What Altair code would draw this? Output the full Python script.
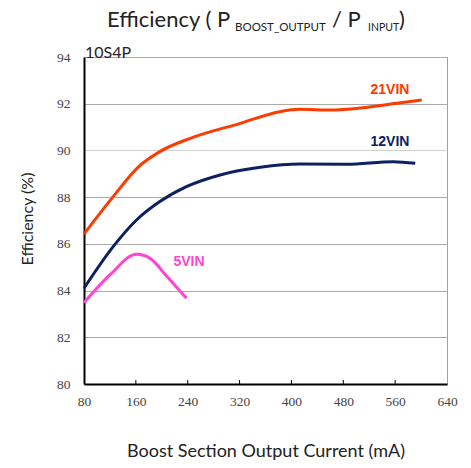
import altair as alt
import pandas as pd

# 21VIN
x_21 = [80, 125, 164, 197, 244, 321, 382, 413, 460, 511, 563, 601]
y_21 = [86.42, 88.02, 89.30, 89.95, 90.52, 91.16, 91.66, 91.76, 91.73, 91.83, 92.02, 92.16]
# 12VIN
x_12 = [80, 125, 161, 197, 238, 290, 352, 413, 485, 557, 591]
y_12 = [84.10, 85.88, 87.02, 87.81, 88.45, 88.95, 89.28, 89.42, 89.41, 89.52, 89.45]
# 5VIN
x_5 = [80, 120, 161, 182, 208, 238]
y_5 = [83.48, 84.67, 85.55, 85.38, 84.60, 83.67]

series_names = ["21VIN", "12VIN", "5VIN"]
line_colors = ["#ff3a00", "#0b2161", "#ff44d0"]
label_colors = ["#ff1a00", "#1c1c8e", "#ff5ce0"]
label_x = [552, 552, 242]
label_y = [92.6, 90.37, 85.24]

x_ticks = [80, 160, 240, 320, 400, 480, 560, 640]
y_ticks = [80, 82, 84, 86, 88, 90, 92, 94]

rows = []
for name, xs_, ys_ in zip(series_names, [x_21, x_12, x_5], [y_21, y_12, y_5]):
    for a, b in zip(xs_, ys_):
        rows.append({"series": name, "current": a, "eff": b})
df = pd.DataFrame(rows)

lab_df = pd.DataFrame({"series": series_names, "current": label_x, "eff": label_y})
tick_df = pd.DataFrame({"current": x_ticks[1:-1], "eff": [80] * 6, "eff2": [80.17] * 6})

xs = alt.Scale(domain=[80, 640], nice=False)
ys = alt.Scale(domain=[80, 94], nice=False)

xaxis = alt.Axis(values=x_ticks, title=None, grid=False, ticks=False, labelFlush=False,
                 domainColor="black", domainWidth=2, labelPadding=10)
yaxis = alt.Axis(values=y_ticks, title=None, grid=True, ticks=False, labelFlush=False,
                 gridColor={"condition": {"test": "datum.value == 90", "value": "#d2d2d2"},
                            "value": "#aaaaaa"},
                 domainColor="black", domainWidth=2, labelPadding=14)

lines = alt.Chart(df).mark_line(strokeWidth=3, interpolate="monotone").encode(
    x=alt.X("current:Q", scale=xs, axis=xaxis),
    y=alt.Y("eff:Q", scale=ys, axis=yaxis),
    color=alt.Color("series:N", scale=alt.Scale(domain=series_names, range=line_colors), legend=None),
)

labels = alt.Chart(lab_df).mark_text(font="Liberation Sans", fontWeight="bold", fontSize=14).encode(
    x=alt.X("current:Q", scale=xs, axis=xaxis),
    y=alt.Y("eff:Q", scale=ys, axis=yaxis),
    text="series:N",
    color=alt.Color("series:N", scale=alt.Scale(domain=series_names, range=label_colors), legend=None),
)

ticks = alt.Chart(tick_df).mark_rule(color="black", strokeWidth=1).encode(
    x=alt.X("current:Q", scale=xs, axis=xaxis),
    y=alt.Y("eff:Q", scale=ys, axis=yaxis),
    y2="eff2:Q",
)

F = "Lato"
def txt(s, x, y, size, **kw):
    return alt.Chart().mark_text(text=s, font=F, fontSize=size, align="left", baseline="alphabetic",
                                 color="#222", **kw).encode(x=alt.value(x), y=alt.value(y))

t1 = txt("Efficiency ( P", 23, -30.5, 22)
t2 = txt("BOOST_OUTPUT", 151, -26, 11.5)
t3 = txt("/ P", 248, -30.5, 22)
t4 = txt("INPUT", 284, -26, 10.5)
t5 = txt(")", 315, -30.5, 22)
t6 = txt("10S4P", 1, 1, 16)
ytitle = alt.Chart().mark_text(text="Efficiency (%)", font=F, fontSize=16, angle=270, align="center",
                               baseline="middle", color="#222").encode(x=alt.value(-56), y=alt.value(162))
xtitle = alt.Chart().mark_text(text="Boost Section Output Current (mA)", font=F, fontSize=18,
                               align="center", baseline="middle", color="#222").encode(
    x=alt.value(182), y=alt.value(395))

chart = alt.layer(lines, ticks, labels, t1, t2, t3, t4, t5, t6, ytitle, xtitle).properties(
    width=363, height=327,
    autosize=alt.AutoSizeParams(type="none"),
    padding={"left": 76, "top": 49, "right": 16, "bottom": 76},
).configure_view(stroke="#a0a0a0").configure_axis(
    labelFont="Liberation Serif", labelFontSize=13.5, labelColor="#444"
)

chart.save("out.html", embed_options={"renderer": "svg", "actions": False})
